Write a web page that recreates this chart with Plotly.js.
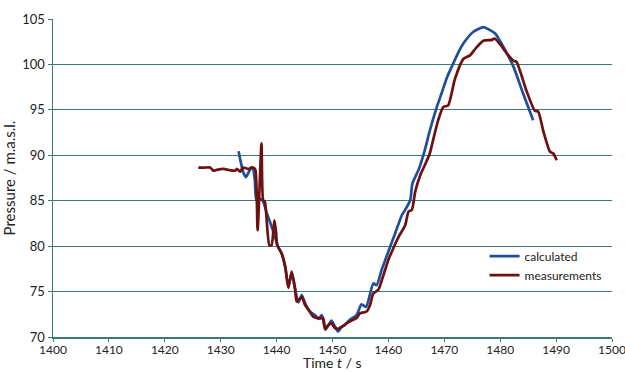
<!DOCTYPE html>
<html>
<head>
<meta charset="utf-8">
<script src="https://cdn.plot.ly/plotly-3.0.1.min.js"></script>
<style>html,body{margin:0;padding:0;background:#fff}#chart{width:625px;height:372px}</style>
</head>
<body>
<div id="chart"></div>
<script>
var measTime = [1426.0,1427.0,1428.1,1428.7,1429.3,1430.5,1431.7,1432.6,1432.9,1433.5,1434.0,1434.9,1435.8,1436.2,1436.6,1437.3,1437.6,1437.9,1438.7,1439.1,1439.6,1439.9,1440.1,1440.9,1441.2,1441.6,1442.1,1442.7,1443.3,1443.6,1444.5,1445.1,1445.8,1446.6,1447.2,1447.8,1448.3,1448.7,1449.2,1449.8,1450.4,1451.0,1451.6,1452.5,1453.4,1454.3,1454.9,1455.5,1456.1,1456.7,1457.3,1458.2,1459.0,1460.0,1460.9,1461.8,1463.0,1463.6,1464.2,1464.8,1465.7,1466.5,1467.4,1468.2,1468.9,1469.8,1470.7,1471.9,1473.4,1474.6,1475.8,1477.0,1478.5,1479.0,1480.0,1481.2,1482.4,1482.9,1484.7,1486.2,1486.8,1487.7,1488.9,1489.5,1490.1];
var measPressure = [88.65,88.65,88.65,88.3,88.4,88.5,88.35,88.3,88.5,88.2,88.65,88.5,88.65,88.4,81.75,91.3,85.05,84.9,80.1,80.1,82.85,81.6,80.1,79.2,78.6,77.5,75.4,77.2,75.35,73.9,74.4,73.5,72.9,72.2,72.1,72.05,72.1,70.9,71.3,71.5,71.0,70.9,71.1,71.5,71.8,72.1,72.6,72.7,72.8,73.5,74.8,75.2,76.6,78.5,79.8,81.0,82.3,83.8,84.0,86.0,87.8,88.9,90.2,92.2,93.85,95.3,95.5,98.4,100.6,101.0,101.9,102.6,102.7,102.85,102.2,101.2,100.4,100.3,97.1,94.9,94.8,92.7,90.4,90.2,89.45];

var calcTime = [1433.2,1434.0,1434.5,1435.1,1435.5,1435.8,1436.1,1436.4,1437.1,1437.6,1438.2,1438.8,1439.4,1440.3,1440.9,1441.5,1442.1,1442.7,1443.3,1443.9,1444.5,1445.1,1446.0,1446.9,1447.5,1448.1,1448.7,1449.3,1449.8,1450.4,1451.0,1451.6,1452.2,1453.1,1454.3,1455.2,1456.0,1457.3,1457.9,1458.8,1460.3,1461.2,1462.4,1463.0,1463.9,1464.3,1465.4,1466.5,1467.4,1468.5,1469.5,1470.5,1471.6,1472.5,1473.4,1475.2,1477.0,1478.1,1479.1,1480.6,1482.4,1484.1,1485.9];
var calcPressure = [90.45,88.2,87.6,88.25,88.7,88.5,87.3,85.05,85.2,84.9,83.7,82.7,81.6,79.9,79.2,77.9,75.6,77.0,75.3,73.8,74.6,73.7,72.8,72.4,72.0,72.4,70.8,71.3,71.8,71.2,70.6,71.1,71.3,71.9,72.4,73.6,73.3,75.9,75.7,77.4,79.9,81.4,83.4,84.0,85.05,86.9,88.4,90.55,92.7,95.0,96.8,98.6,100.1,101.3,102.3,103.6,104.1,103.8,103.4,101.9,99.7,96.8,93.85];

var xTicks = [1400,1410,1420,1430,1440,1450,1460,1470,1480,1490,1500];
var yTicks = [70,75,80,85,90,95,100,105];

var teal = '#3C7A76';
var font = 'Lato, "Open Sans", sans-serif';

var traces = [
  {x: calcTime, y: calcPressure, name: 'calculated', type: 'scatter', mode: 'lines',
   line: {color: '#1F4E9A', width: 2.7, shape: 'spline', smoothing: 0.6}},
  {x: measTime, y: measPressure, name: 'measurements', type: 'scatter', mode: 'lines',
   line: {color: '#6E1010', width: 2.7, shape: 'spline', smoothing: 0.6}}
];

var layout = {
  width: 625, height: 372,
  margin: {l: 53, r: 13, t: 19, b: 35},
  paper_bgcolor: '#fff', plot_bgcolor: '#fff',
  font: {family: font, size: 13, color: '#222'},
  showlegend: true,
  legend: {x: 0.772, y: 0.3, xanchor: 'left', yanchor: 'top', bgcolor: 'rgba(0,0,0,0)',
           font: {size: 12, color: '#222'}, tracegroupgap: 0, itemwidth: 30},
  xaxis: {range: [1400, 1500], tickvals: xTicks, ticktext: xTicks.map(String),
          showgrid: false, zeroline: false, showline: true, linecolor: teal, linewidth: 1.5,
          ticks: 'outside', ticklen: 3, tickcolor: teal, tickfont: {size: 12},
          ticklabelstandoff: -2, ticklabeloverflow: 'allow'},
  yaxis: {range: [70, 105], tickvals: yTicks, ticktext: yTicks.map(String),
          showgrid: true, gridcolor: teal, gridwidth: 1.2, zeroline: false,
          showline: true, linecolor: teal, linewidth: 1.5,
          ticks: 'outside', ticklen: 4, tickcolor: teal, tickfont: {size: 13},
          title: {text: 'Pressure / m.a.s.l.', font: {size: 15}, standoff: 8}},
  annotations: [
    {text: 'Time <i>t</i> / s', xref: 'paper', yref: 'paper', x: 0.5, y: -0.1095,
     xanchor: 'center', yanchor: 'bottom', showarrow: false, borderpad: 0,
     font: {size: 14, color: '#222'}}
  ]
};

Plotly.newPlot('chart', traces, layout, {displayModeBar: false, staticPlot: true});
</script>
</body>
</html>
